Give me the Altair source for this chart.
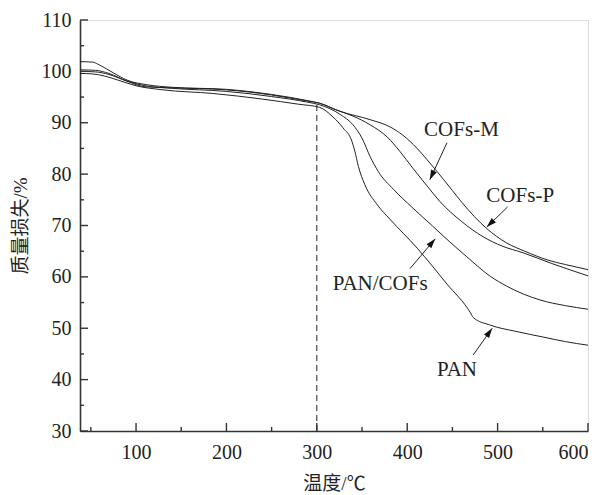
import math
import altair as alt
import pandas as pd

# ---- data ----
pan_t = [38, 52, 65, 80, 100, 130, 185, 240, 280, 303, 318, 329, 339, 342, 346, 353, 367, 381, 411, 444, 470, 473, 492, 520, 550, 575, 600]
pan_m = [99.6, 99.5, 99.1, 98.3, 97.2, 96.4, 95.7, 94.6, 93.6, 93.0, 91.1, 89.0, 86.3, 84.5, 81.5, 78.0, 74.0, 71.2, 65.6, 58.6, 53.0, 52.1, 50.6, 49.4, 48.3, 47.4, 46.7]

pancof_t = [38, 55, 70, 90, 110, 140, 200, 250, 290, 303, 326, 340, 350, 359, 368, 385, 405, 428, 444, 466, 492, 510, 547, 575, 600]
pancof_m = [100.0, 99.9, 99.4, 98.1, 97.2, 96.7, 96.1, 95.1, 94.0, 93.5, 91.6, 89.6, 87.0, 83.4, 80.5, 77.0, 73.6, 69.9, 67.3, 63.9, 60.1, 58.2, 55.5, 54.4, 53.7]

cofm_t = [38, 55, 70, 90, 110, 140, 200, 250, 290, 303, 320, 340, 359, 378, 392, 406, 422, 436, 460, 484, 505, 528, 560, 600]
cofm_m = [100.3, 100.2, 99.6, 98.1, 97.0, 96.8, 96.4, 95.4, 94.2, 93.8, 92.6, 91.3, 89.6, 87.2, 84.4, 81.2, 77.7, 74.7, 70.8, 67.8, 66.0, 64.7, 62.6, 60.2]

cofp_t = [38, 52, 60, 75, 90, 112, 140, 200, 250, 290, 303, 326, 359, 381, 395, 411, 422, 440, 450, 460, 488, 510, 530, 555, 575, 600]
cofp_m = [101.9, 101.8, 101.2, 99.7, 98.3, 97.4, 96.9, 96.5, 95.5, 94.3, 93.8, 92.2, 90.6, 89.2, 87.6, 85.0, 82.8, 79.0, 76.8, 74.6, 69.4, 66.6, 65.0, 63.3, 62.4, 61.4]

series_names = ["PAN", "PAN/COFs", "COFs-M", "COFs-P"]
series_t = [pan_t, pancof_t, cofm_t, cofp_t]
series_m = [pan_m, pancof_m, cofm_m, cofp_m]

# annotations: label text, label position, arrow tail, arrow tip
ann_text = ["COFs-M", "COFs-P", "PAN/COFs", "PAN"]
ann_tx = [460, 525, 370, 455]
ann_ty = [88.6, 75.8, 58.6, 41.9]
arr_x1 = [444, 511, 403, 473]
arr_y1 = [86.1, 73.6, 61.6, 44.8]
arr_x2 = [425, 488, 431, 494]
arr_y2 = [78.9, 69.7, 67.4, 50.0]

x_ticks_major = [100, 200, 300, 400, 500, 600]
x_ticks_minor = [50, 150, 250, 350, 450, 550]
y_ticks_major = [30, 40, 50, 60, 70, 80, 90, 100, 110]
y_ticks_minor = [35, 45, 55, 65, 75, 85, 95, 105]

x_dom = [38, 600]
y_dom = [30, 110]
dash_x = [300]
dash_y1 = [30]
dash_y2 = [93.5]

W, H = 508, 411
FONT = "Liberation Serif, Times New Roman, Noto Sans CJK SC"
INK = "#222222"
AX = "#333333"

rows = []
for n, ts, ms in zip(series_names, series_t, series_m):
    for t, m in zip(ts, ms):
        rows.append({"series": n, "t": t, "m": m})
df = pd.DataFrame(rows)

xs = alt.Scale(domain=x_dom, nice=False, zero=False)
ys = alt.Scale(domain=y_dom, nice=False, zero=False)

lines = alt.Chart(df).mark_line(color=INK, strokeWidth=1, interpolate="monotone").encode(
    x=alt.X("t:Q", scale=xs, axis=alt.Axis(
        title="温度/℃", values=x_ticks_major, ticks=False, grid=False,
        domainColor=AX, domainWidth=1.6, labelFont=FONT, labelFontSize=20,
        labelColor=INK, labelPadding=11, titleFont=FONT, titleFontSize=19,
        titleFontWeight="normal", titleColor=INK, titlePadding=12)),
    y=alt.Y("m:Q", scale=ys, axis=alt.Axis(
        title="质量损失/%", values=y_ticks_major, ticks=False, grid=False,
        domainColor=AX, domainWidth=1.6, labelFont=FONT, labelFontSize=20,
        labelColor=INK, labelPadding=9, titleFont=FONT, titleFontSize=19,
        titleFontWeight="normal", titleColor=INK, titlePadding=11)),
    detail="series:N",
)

dash = alt.Chart(pd.DataFrame({"x": dash_x, "y": dash_y1, "y2": dash_y2})).mark_rule(
    color=INK, strokeWidth=1, strokeDash=[6, 4]).encode(
    x=alt.X("x:Q", scale=xs), y=alt.Y("y:Q", scale=ys), y2="y2:Q")

# inward ticks
def xtick_layer(vals, length):
    return alt.Chart(pd.DataFrame({"v": vals})).mark_rule(color=AX, strokeWidth=1.4).encode(
        x=alt.X("v:Q", scale=xs), y=alt.value(H), y2=alt.value(H - length))

def ytick_layer(vals, length):
    return alt.Chart(pd.DataFrame({"v": vals})).mark_rule(color=AX, strokeWidth=1.4).encode(
        y=alt.Y("v:Q", scale=ys), x=alt.value(0), x2=alt.value(length))

ticks = [xtick_layer(x_ticks_major, 8), xtick_layer(x_ticks_minor, 4),
         ytick_layer(y_ticks_major, 8), ytick_layer(y_ticks_minor, 4)]

# annotations
sx = W / (x_dom[1] - x_dom[0])
sy = H / (y_dom[1] - y_dom[0])
angs = []
for a, b, c, d in zip(arr_x1, arr_y1, arr_x2, arr_y2):
    dxp = (c - a) * sx
    dyp = -(d - b) * sy
    angs.append(math.degrees(math.atan2(dxp, -dyp)) % 360)
adf = pd.DataFrame({"x1": arr_x1, "y1": arr_y1, "x2": arr_x2, "y2": arr_y2, "ang": angs})
arrow_lines = alt.Chart(adf).mark_rule(color=INK, strokeWidth=1).encode(
    x=alt.X("x1:Q", scale=xs), y=alt.Y("y1:Q", scale=ys), x2="x2:Q", y2="y2:Q")
arrow_heads = alt.Chart(adf).mark_point(
    shape="M0,0 L-0.32,1 L0.32,1 Z", filled=True, color="#111111", opacity=1, size=380
).encode(x=alt.X("x2:Q", scale=xs), y=alt.Y("y2:Q", scale=ys),
         angle=alt.Angle("ang:Q", scale=None))

tdf = pd.DataFrame({"text": ann_text, "x": ann_tx, "y": ann_ty})
labels = alt.Chart(tdf).mark_text(font=FONT, fontSize=21, color=INK).encode(
    x=alt.X("x:Q", scale=xs), y=alt.Y("y:Q", scale=ys), text="text:N")

chart = alt.layer(lines, dash, *ticks, arrow_lines, arrow_heads, labels).properties(
    width=W, height=H,
    autosize=alt.AutoSizeParams(type="none"),
    padding={"left": 80, "top": 20, "right": 17, "bottom": 64},
).configure_view(stroke=None).configure(background="white")

chart.save("out.html", embed_options={"renderer": "svg", "actions": False})
